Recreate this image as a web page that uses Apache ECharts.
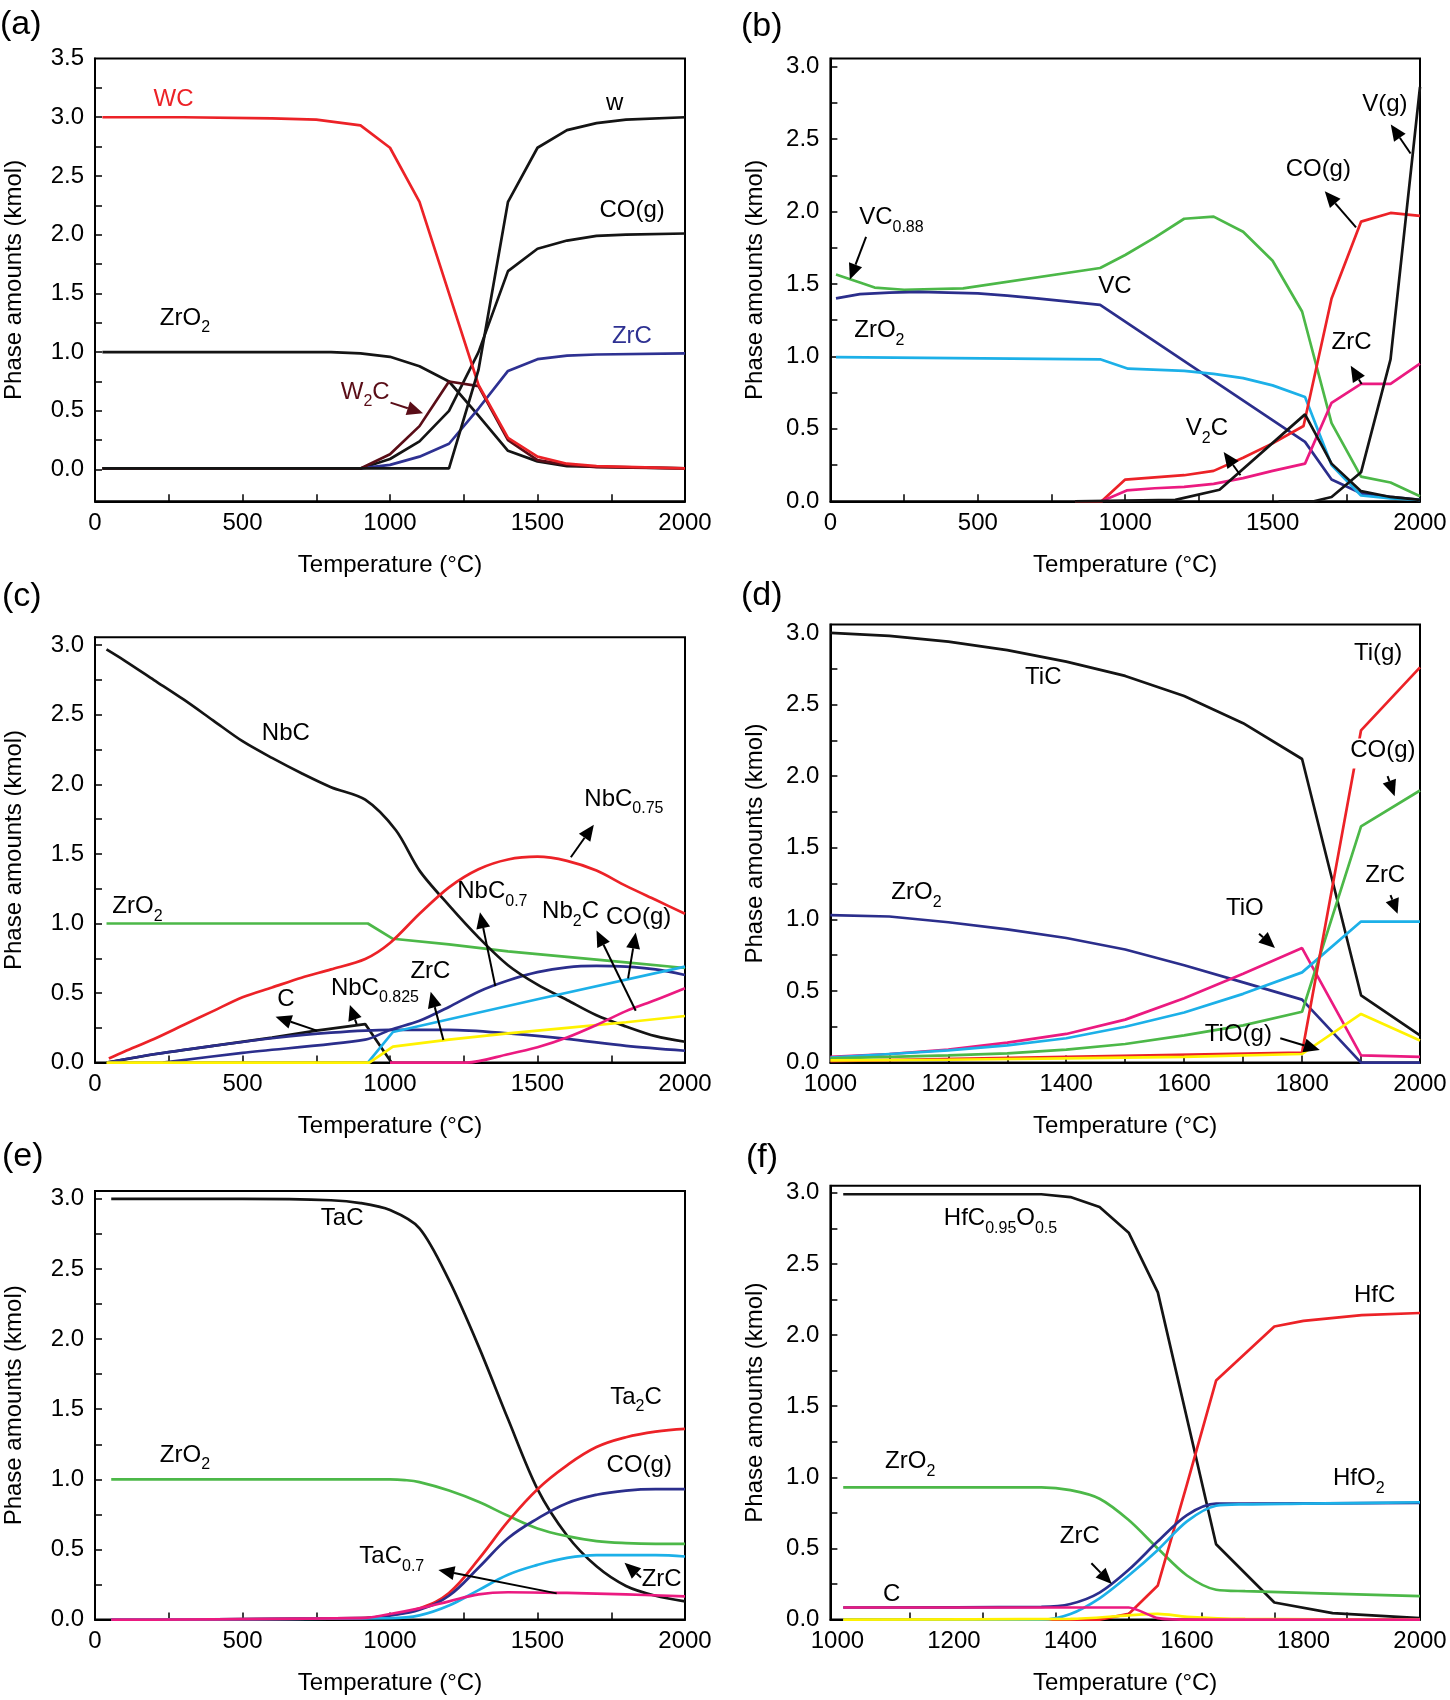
<!DOCTYPE html>
<html><head><meta charset="utf-8">
<script src="https://cdn.jsdelivr.net/npm/echarts@6/dist/echarts.min.js"></script>
<style>html,body{margin:0;padding:0;background:#fff}#c{width:1450px;height:1700px}</style>
</head><body><div id="c"></div>
<script>
// ---------------- DATA ----------------
// tick labels / tick values
const Y_LABELS_A = [0, 0.5, 1, 1.5, 2, 2.5, 3, 3.5];
const Y_TICKS_A = [0, 0.25, 0.5, 0.75, 1, 1.25, 1.5, 1.75, 2, 2.25, 2.5, 2.75, 3, 3.25];
const Y_LABELS = [0, 0.5, 1, 1.5, 2, 2.5, 3];
const Y_TICKS = [0.25, 0.5, 0.75, 1, 1.25, 1.5, 1.75, 2, 2.25, 2.5, 2.75, 3];
const X_LABELS_FULL = [0, 500, 1000, 1500, 2000];
const X_TICKS_FULL = [250, 500, 750, 1000, 1250, 1500, 1750];
const X_LABELS_HI = [1000, 1200, 1400, 1600, 1800, 2000];
const X_TICKS_D = [1100, 1200, 1300, 1400, 1500, 1600, 1700, 1800, 1900];
const X_TICKS_F = [1125, 1250, 1375, 1500, 1625, 1750, 1875];

// (a) WC + ZrO2
const a_WC   = [[25,3.0],[300,3.0],[600,2.99],[750,2.98],[900,2.93],[1000,2.74],[1100,2.28],[1200,1.50],[1300,0.72],[1400,0.27],[1500,0.11],[1600,0.05],[1700,0.03],[2000,0.01]];
const a_W    = [[25,0.01],[1200,0.01],[1300,0.85],[1400,2.28],[1500,2.74],[1600,2.89],[1700,2.95],[1800,2.98],[2000,3.0]];
const a_CO   = [[25,0.01],[900,0.01],[1000,0.09],[1100,0.24],[1200,0.50],[1300,1.0],[1400,1.69],[1500,1.88],[1600,1.95],[1700,1.99],[1800,2.0],[2000,2.01]];
const a_ZrO2 = [[25,1.0],[800,1.0],[900,0.99],[1000,0.96],[1100,0.88],[1200,0.75],[1300,0.46],[1400,0.16],[1500,0.07],[1600,0.03],[2000,0.01]];
const a_ZrC  = [[900,0.01],[1000,0.04],[1100,0.11],[1200,0.22],[1300,0.52],[1400,0.84],[1500,0.94],[1600,0.97],[1700,0.98],[2000,0.99]];
const a_W2C  = [[25,0.01],[900,0.01],[1000,0.13],[1100,0.37],[1200,0.75],[1300,0.71],[1400,0.25],[1500,0.08],[1600,0.04],[1700,0.02],[2000,0.01]];

// (b) VC + ZrO2
const b_VC088 = [[19,1.565],[100,1.51],[150,1.475],[250,1.46],[450,1.47],[915,1.61],[1000,1.70],[1100,1.82],[1200,1.95],[1300,1.965],[1400,1.86],[1500,1.66],[1600,1.31],[1700,0.54],[1800,0.17],[1900,0.13],[2000,0.035]];
const b_VC    = [[19,1.40],[100,1.43],[200,1.44],[300,1.445],[400,1.44],[500,1.435],[600,1.42],[700,1.40],[800,1.38],[915,1.355],[1610,0.41],[1700,0.15],[1800,0.055],[1900,0.03],[2000,0.01]];
const b_ZrO2  = [[19,0.995],[915,0.98],[1010,0.915],[1200,0.90],[1300,0.88],[1400,0.85],[1500,0.80],[1610,0.72],[1700,0.25],[1800,0.04],[1900,0.02],[2000,0.01]];
const b_CO    = [[830,0],[920,0],[1000,0.15],[1100,0.165],[1200,0.18],[1300,0.21],[1400,0.30],[1500,0.40],[1605,0.52],[1700,1.40],[1800,1.93],[1900,1.99],[2000,1.97]];
const b_ZrC   = [[920,0],[1005,0.075],[1100,0.09],[1200,0.10],[1300,0.12],[1400,0.16],[1500,0.21],[1610,0.26],[1700,0.68],[1800,0.81],[1900,0.81],[2000,0.95]];
const b_V2C   = [[830,0],[1170,0.01],[1320,0.08],[1610,0.60],[1700,0.26],[1800,0.07],[1900,0.03],[2000,0.01]];
const b_Vg    = [[1520,0],[1640,0],[1700,0.03],[1800,0.20],[1900,0.98],[2000,2.86]];

// (c) NbC + ZrO2
const c_NbC     = [[39,2.97],[100,2.89],[200,2.75],[300,2.61],[400,2.46],[500,2.31],[600,2.19],[700,2.08],[800,1.98],[916,1.89],[1020,1.67],[1100,1.38],[1200,1.13],[1300,0.90],[1400,0.70],[1500,0.56],[1600,0.45],[1700,0.34],[1800,0.26],[1900,0.19],[2000,0.15]];
const c_NbC075  = [[47,0.03],[100,0.08],[200,0.17],[300,0.27],[400,0.37],[500,0.47],[600,0.54],[700,0.61],[800,0.67],[916,0.745],[1000,0.86],[1100,1.07],[1200,1.26],[1300,1.39],[1400,1.46],[1500,1.48],[1600,1.45],[1700,1.38],[1800,1.27],[1900,1.17],[2000,1.07]];
const c_ZrO2    = [[39,1.0],[925,1.0],[1010,0.89],[1200,0.85],[1400,0.80],[1600,0.76],[1800,0.72],[2000,0.68]];
const c_C       = [[39,0.0],[200,0.06],[400,0.12],[600,0.18],[750,0.23],[916,0.277],[1005,0.0]];
const c_NbC0825 = [[39,0],[200,0.06],[400,0.12],[600,0.175],[800,0.215],[1000,0.235],[1200,0.235],[1400,0.21],[1600,0.17],[1800,0.12],[2000,0.085]];
const c_NbC07   = [[230,0],[500,0.07],[916,0.165],[1000,0.235],[1100,0.30],[1200,0.40],[1300,0.51],[1400,0.59],[1500,0.65],[1600,0.685],[1700,0.695],[1800,0.69],[1900,0.67],[2000,0.63]];
const c_ZrC     = [[925,0],[1010,0.22],[1500,0.455],[2000,0.69]];
const c_Y       = [[39,0],[930,0],[1010,0.115],[1200,0.165],[1400,0.21],[1600,0.25],[1800,0.29],[2000,0.335]];
const c_Nb2C    = [[1000,0],[1260,0],[1400,0.06],[1500,0.11],[1600,0.18],[1700,0.27],[1800,0.37],[1900,0.45],[2000,0.535]];

// (d) TiC + ZrO2
const d_TiC  = [[1000,3.0],[1100,2.98],[1200,2.94],[1300,2.88],[1400,2.80],[1500,2.70],[1600,2.56],[1700,2.37],[1800,2.12],[1900,0.47],[2000,0.19]];
const d_ZrO2 = [[1000,1.03],[1100,1.02],[1200,0.98],[1300,0.93],[1400,0.87],[1500,0.79],[1600,0.68],[1700,0.56],[1800,0.44],[1900,0.0],[2000,0.0]];
const d_TiO  = [[1000,0.04],[1100,0.06],[1200,0.09],[1300,0.14],[1400,0.20],[1500,0.30],[1600,0.45],[1700,0.62],[1800,0.80],[1900,0.05],[2000,0.04]];
const d_ZrC  = [[1000,0.035],[1100,0.06],[1200,0.085],[1300,0.12],[1400,0.17],[1500,0.25],[1600,0.35],[1700,0.48],[1800,0.63],[1900,0.985],[2000,0.985]];
const d_CO   = [[1000,0.03],[1100,0.04],[1200,0.05],[1300,0.065],[1400,0.09],[1500,0.13],[1600,0.19],[1700,0.26],[1800,0.355],[1900,1.65],[2000,1.90]];
const d_Tig  = [[1000,0.01],[1800,0.07],[1900,2.32],[2000,2.76]];
const d_TiOg = [[1000,0.015],[1200,0.02],[1400,0.03],[1600,0.04],[1800,0.06],[1900,0.34],[2000,0.155]];

// (e) TaC + ZrO2
const e_TaC   = [[55,3.0],[500,3.0],[800,2.99],[900,2.97],[1000,2.92],[1100,2.79],[1200,2.42],[1300,1.95],[1400,1.43],[1500,0.93],[1600,0.60],[1700,0.38],[1800,0.24],[1900,0.17],[2000,0.13]];
const e_ZrO2  = [[55,1.0],[1000,1.0],[1050,0.995],[1100,0.98],[1200,0.92],[1300,0.84],[1400,0.74],[1500,0.65],[1600,0.595],[1700,0.56],[1800,0.545],[1900,0.54],[2000,0.54]];
const e_Ta2C  = [[55,0],[900,0.01],[1000,0.03],[1100,0.08],[1200,0.19],[1300,0.43],[1400,0.70],[1500,0.93],[1600,1.10],[1700,1.23],[1800,1.30],[1900,1.34],[2000,1.36]];
const e_CO    = [[55,0],[900,0.01],[1000,0.03],[1100,0.07],[1200,0.17],[1300,0.37],[1400,0.58],[1500,0.72],[1600,0.83],[1700,0.89],[1800,0.92],[1900,0.93],[2000,0.93]];
const e_ZrC   = [[55,0],[1000,0.01],[1100,0.03],[1200,0.10],[1300,0.21],[1400,0.32],[1500,0.39],[1600,0.44],[1700,0.46],[1800,0.46],[1900,0.46],[2000,0.45]];
const e_TaC07 = [[55,0],[900,0.01],[1000,0.04],[1100,0.08],[1200,0.13],[1300,0.18],[1400,0.195],[1600,0.19],[1800,0.18],[2000,0.165]];

// (f) HfC + ZrO2
const f_HfCO = [[1010,2.99],[1350,2.99],[1400,2.97],[1450,2.90],[1500,2.72],[1550,2.30],[1650,0.53],[1750,0.12],[1850,0.045],[2000,0.01]];
const f_ZrO2 = [[1010,0.93],[1350,0.93],[1400,0.91],[1450,0.85],[1500,0.70],[1550,0.50],[1600,0.31],[1650,0.21],[1700,0.20],[2000,0.165]];
const f_HfC  = [[1010,0],[1450,0],[1500,0.04],[1550,0.24],[1600,0.95],[1650,1.68],[1750,2.06],[1800,2.10],[1900,2.14],[2000,2.155]];
const f_ZrC  = [[1010,0.085],[1350,0.09],[1400,0.11],[1450,0.19],[1500,0.35],[1550,0.55],[1600,0.735],[1650,0.815],[1700,0.815],[2000,0.82]];
const f_HfO2 = [[1010,0],[1350,0.0],[1400,0.04],[1450,0.15],[1500,0.31],[1550,0.49],[1600,0.69],[1650,0.80],[1700,0.81],[1800,0.815],[2000,0.825]];
const f_C    = [[1010,0.085],[1500,0.085],[1550,0.01],[1600,0],[2000,0]];
const f_Y    = [[1010,0],[1400,0.005],[1500,0.03],[1550,0.04],[1600,0.02],[1700,0.005],[2000,0]];

// ---------------- STYLE / LAYOUT ----------------
const FONT = '"Liberation Sans", Arial, Helvetica, sans-serif';
const RED = '#ec2227', BLACK = '#141414', NAVY = '#2b2e8c', CYAN = '#1cb0e8', GREEN = '#4cb848',
      PINK = '#eb1a80', YELLOW = '#fff200', MAROON = '#5a0d17', BLUE = '#2e3192';

const panels = [
  { letter: '(a)', lp: [0, 25], grid: [95, 58.5, 590, 442.8], yGap: 69,
    x: { min: 0, max: 2000, labels: X_LABELS_FULL, ticks: X_TICKS_FULL },
    y: { min: -0.27, max: 3.5, labels: Y_LABELS_A, ticks: Y_TICKS_A },
    series: [
      { d: a_ZrO2, c: BLACK }, { d: a_CO, c: BLACK }, { d: a_ZrC, c: BLUE },
      { d: a_W2C, c: MAROON }, { d: a_WC, c: RED }, { d: a_W, c: BLACK } ],
    notes: [
      { t: 'WC', x: 266, y: 3.15, c: RED }, { t: 'w', x: 1762, y: 3.12 },
      { t: 'CO(g)', x: 1821, y: 2.21 }, { t: 'ZrO_{2}', x: 305, y: 1.29 },
      { t: 'ZrC', x: 1820, y: 1.13, c: BLUE }, { t: 'W_{2}C', x: 916, y: 0.66, c: MAROON } ],
    arrows: [ { f: [1002, 0.57], to: [1112, 0.48], c: MAROON } ] },
  { letter: '(b)', lp: [741, 27], grid: [830.4, 58.5, 589.6, 442.8], yGap: 63,
    x: { min: 0, max: 2000, labels: X_LABELS_FULL, ticks: X_TICKS_FULL },
    y: { min: 0, max: 3.056, labels: Y_LABELS, ticks: Y_TICKS },
    series: [
      { d: b_VC088, c: GREEN }, { d: b_VC, c: NAVY }, { d: b_ZrO2, c: CYAN },
      { d: b_CO, c: RED }, { d: b_ZrC, c: PINK }, { d: b_V2C, c: BLACK }, { d: b_Vg, c: BLACK } ],
    notes: [
      { t: 'VC_{0.88}', x: 207, y: 1.96 }, { t: 'VC', x: 965, y: 1.48 },
      { t: 'ZrO_{2}', x: 166, y: 1.18 }, { t: 'V_{2}C', x: 1277, y: 0.50 },
      { t: 'ZrC', x: 1768, y: 1.10 }, { t: 'CO(g)', x: 1655, y: 2.29 }, { t: 'V(g)', x: 1881, y: 2.74 } ],
    arrows: [
      { f: [121, 1.825], to: [66, 1.53] }, { f: [1391, 0.18], to: [1334, 0.34] },
      { f: [1802, 0.81], to: [1765, 0.935] }, { f: [1783, 1.89], to: [1677, 2.14] },
      { f: [1968, 2.40], to: [1901, 2.60] } ] },
  { letter: '(c)', lp: [2, 597], grid: [95, 637.3, 590, 425.3], yGap: 69,
    x: { min: 0, max: 2000, labels: X_LABELS_FULL, ticks: X_TICKS_FULL },
    y: { min: 0, max: 3.057, labels: Y_LABELS, ticks: Y_TICKS },
    series: [
      { d: c_C, c: BLACK }, { d: c_NbC0825, c: NAVY, sm: 0.3 }, { d: c_NbC07, c: NAVY, sm: 0.3 },
      { d: c_ZrO2, c: GREEN }, { d: c_NbC, c: BLACK, sm: 0.3 }, { d: c_NbC075, c: RED, sm: 0.3 },
      { d: c_ZrC, c: CYAN }, { d: c_Y, c: YELLOW }, { d: c_Nb2C, c: PINK, sm: 0.3 } ],
    notes: [
      { t: 'NbC', x: 647, y: 2.365 }, { t: 'NbC_{0.75}', x: 1793, y: 1.895 },
      { t: 'ZrO_{2}', x: 144, y: 1.124 }, { t: 'NbC_{0.7}', x: 1347, y: 1.228 },
      { t: 'Nb_{2}C', x: 1612, y: 1.084 }, { t: 'CO(g)', x: 1843, y: 1.045 },
      { t: 'ZrC', x: 1137, y: 0.653 }, { t: 'NbC_{0.825}', x: 949, y: 0.536 }, { t: 'C', x: 647, y: 0.457 } ],
    arrows: [
      { f: [1613, 1.476], to: [1691, 1.71] }, { f: [1357, 0.55], to: [1305, 1.08] },
      { f: [1833, 0.373], to: [1700, 0.95] }, { f: [1807, 0.605], to: [1833, 0.935] },
      { f: [1181, 0.162], to: [1138, 0.51] }, { f: [887, 0.277], to: [864, 0.414] },
      { f: [752, 0.23], to: [612, 0.33] } ] },
  { letter: '(d)', lp: [741, 596], grid: [830.4, 624.5, 589.6, 438.1], yGap: 63,
    x: { min: 1000, max: 2000, labels: X_LABELS_HI, ticks: X_TICKS_D },
    y: { min: 0, max: 3.059, labels: Y_LABELS, ticks: Y_TICKS },
    series: [
      { d: d_TiC, c: BLACK }, { d: d_ZrO2, c: NAVY }, { d: d_TiO, c: PINK },
      { d: d_ZrC, c: CYAN }, { d: d_CO, c: GREEN }, { d: d_Tig, c: RED }, { d: d_TiOg, c: YELLOW } ],
    notes: [
      { t: 'TiC', x: 1361, y: 2.69 }, { t: 'Ti(g)', x: 1929, y: 2.855 },
      { t: 'CO(g)', x: 1937, y: 2.18, bg: true }, { t: 'ZrO_{2}', x: 1146, y: 1.19 },
      { t: 'TiO', x: 1703, y: 1.08 }, { t: 'ZrC', x: 1941, y: 1.31 }, { t: 'TiO(g)', x: 1692, y: 0.195 } ],
    arrows: [
      { f: [1945, 2.0], to: [1957, 1.86] }, { f: [1950, 1.17], to: [1962, 1.04] },
      { f: [1727, 0.90], to: [1754, 0.80] }, { f: [1763, 0.17], to: [1830, 0.088] } ] },
  { letter: '(e)', lp: [2, 1157], grid: [95, 1191, 590, 428.6], yGap: 69,
    x: { min: 0, max: 2000, labels: X_LABELS_FULL, ticks: X_TICKS_FULL },
    y: { min: 0, max: 3.056, labels: Y_LABELS, ticks: Y_TICKS },
    series: [
      { d: e_TaC, c: BLACK, sm: 0.3 }, { d: e_ZrO2, c: GREEN, sm: 0.4 }, { d: e_Ta2C, c: RED, sm: 0.4 },
      { d: e_CO, c: NAVY, sm: 0.4 }, { d: e_ZrC, c: CYAN, sm: 0.4 }, { d: e_TaC07, c: PINK, sm: 0.4 } ],
    notes: [
      { t: 'TaC', x: 838, y: 2.86 }, { t: 'Ta_{2}C', x: 1834, y: 1.587 },
      { t: 'CO(g)', x: 1845, y: 1.10 }, { t: 'ZrO_{2}', x: 305, y: 1.174 },
      { t: 'TaC_{0.7}', x: 1006, y: 0.448 }, { t: 'ZrC', x: 1921, y: 0.286 } ],
    arrows: [ { f: [1565, 0.187], to: [1164, 0.354] }, { f: [1851, 0.30], to: [1795, 0.405] } ] },
  { letter: '(f)', lp: [746, 1158], grid: [830.4, 1185.7, 589.6, 433.9], yGap: 63,
    x: { min: 988, max: 2000, labels: X_LABELS_HI, ticks: X_TICKS_F },
    y: { min: 0, max: 3.05, labels: Y_LABELS, ticks: Y_TICKS },
    series: [
      { d: f_HfCO, c: BLACK }, { d: f_ZrO2, c: GREEN, sm: 0.3 }, { d: f_HfC, c: RED },
      { d: f_ZrC, c: NAVY, sm: 0.3 }, { d: f_HfO2, c: CYAN, sm: 0.3 }, { d: f_Y, c: YELLOW, sm: 0.3 }, { d: f_C, c: PINK, sm: 0.2 } ],
    notes: [
      { t: 'HfC_{0.95}O_{0.5}', x: 1280, y: 2.82 }, { t: 'HfC', x: 1922, y: 2.28 },
      { t: 'ZrO_{2}', x: 1125, y: 1.11 }, { t: 'HfO_{2}', x: 1895, y: 0.99 },
      { t: 'ZrC', x: 1416, y: 0.583 }, { t: 'C', x: 1093, y: 0.178 } ],
    arrows: [ { f: [1436, 0.396], to: [1471, 0.25] } ] }
];

// ---------------- OPTION ----------------
const axisText = { fontSize: 24, color: '#000', fontFamily: FONT };
const option = {
  animation: false, backgroundColor: '#fff', textStyle: { fontFamily: FONT },
  grid: panels.map(p => ({ left: p.grid[0], top: p.grid[1], width: p.grid[2], height: p.grid[3],
    show: true, borderColor: '#000', borderWidth: 2, backgroundColor: 'transparent',
    containLabel: false, outerBoundsMode: 'none' })),
  xAxis: panels.map((p, i) => ({
    type: 'value', gridIndex: i, min: p.x.min, max: p.x.max,
    name: 'Temperature (°C)', nameLocation: 'middle', nameGap: 52, nameTextStyle: axisText,
    axisLine: { show: true, onZero: false, lineStyle: { color: '#000', width: 2 } },
    axisTick: { show: true, inside: true, length: 7, customValues: p.x.ticks, lineStyle: { color: '#000', width: 1.5 } },
    axisLabel: Object.assign({ customValues: p.x.labels, margin: 10, formatter: v => String(Math.round(v)) }, axisText),
    splitLine: { show: false } })),
  yAxis: panels.map((p, i) => ({
    type: 'value', gridIndex: i, min: p.y.min, max: p.y.max,
    name: 'Phase amounts (kmol)', nameLocation: 'middle', nameGap: p.yGap, nameTextStyle: axisText,
    axisLine: { show: true, onZero: false, lineStyle: { color: '#000', width: 2 } },
    axisTick: { show: true, inside: true, length: 7, customValues: p.y.ticks, lineStyle: { color: '#000', width: 1.5 } },
    axisLabel: Object.assign({ customValues: p.y.labels, margin: 11, formatter: v => v.toFixed(1) }, axisText),
    splitLine: { show: false } })),
  series: []
};
panels.forEach((p, i) => p.series.forEach(s => option.series.push({
  type: 'line', xAxisIndex: i, yAxisIndex: i, data: s.d, symbol: 'none', showSymbol: false,
  smooth: s.sm || false, silent: true, clip: true,
  lineStyle: { color: s.c, width: 2.7 }, itemStyle: { color: s.c } })));

const chart = echarts.init(document.getElementById('c'), null, { renderer: 'canvas' });
chart.setOption(option);

// ---------------- ANNOTATIONS ----------------
function richText(t) {
  let s = '{n|' + t.replace(/_\{([^}]*)\}/g, '}{s|$1}{n|') + '}';
  return s.replace(/\{n\|\}/g, '');
}
function richStyle(col) {
  return {
    n: { fontSize: 24, fontFamily: FONT, lineHeight: 30, verticalAlign: 'top', fill: col, color: col },
    s: { fontSize: 16, fontFamily: FONT, lineHeight: 16, verticalAlign: 'bottom', fill: col, color: col }
  };
}
const TEXT_SHIFT = 3;
const g = [];
panels.forEach((p, i) => {
  g.push({ type: 'text', x: p.lp[0], y: p.lp[1], z: 120,
    style: { text: p.letter, fontSize: 34, fontFamily: FONT, fill: '#000', align: 'left', verticalAlign: 'middle' } });
  p.notes.forEach(n => {
    const pt = chart.convertToPixel({ gridIndex: i }, [n.x, n.y]);
    const col = n.c || '#000';
    const st = { text: richText(n.t), rich: richStyle(col), fill: col, fontSize: 24, fontFamily: FONT,
      align: 'center', verticalAlign: 'middle' };
    if (n.bg) { st.backgroundColor = '#fff'; st.padding = [0, 2]; }
    g.push({ type: 'text', x: pt[0], y: pt[1] + TEXT_SHIFT, z: 110, style: st });
  });
  p.arrows.forEach(a => {
    const p1 = chart.convertToPixel({ gridIndex: i }, a.f);
    const p2 = chart.convertToPixel({ gridIndex: i }, a.to);
    const col = a.c || '#000';
    const dx = p2[0] - p1[0], dy = p2[1] - p1[1], L = Math.hypot(dx, dy);
    const ux = dx / L, uy = dy / L;
    const hl = Math.min(16, L * 0.75), hw = 7;
    const bx = p2[0] - ux * hl, by = p2[1] - uy * hl;
    g.push({ type: 'line', z: 105, shape: { x1: p1[0], y1: p1[1], x2: bx, y2: by }, style: { stroke: col, lineWidth: 2 } });
    g.push({ type: 'polygon', z: 105, shape: { points: [[p2[0], p2[1]], [bx - uy * hw, by + ux * hw], [bx + uy * hw, by - ux * hw]] },
      style: { fill: col } });
  });
});
chart.setOption({ graphic: g });
</script>
</body></html>
